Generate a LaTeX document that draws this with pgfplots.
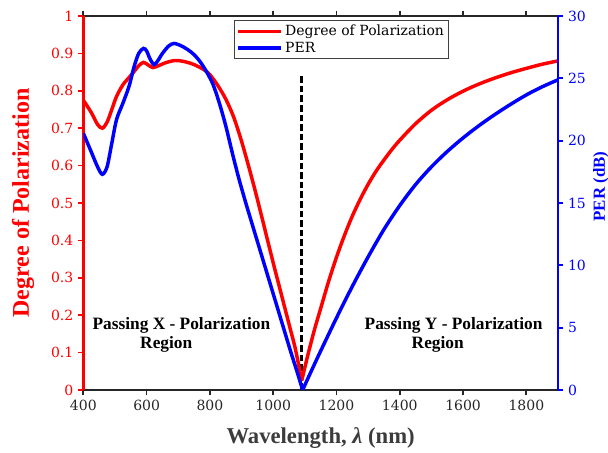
\documentclass[border=0pt]{standalone}
\usepackage{fontspec}
\setmainfont{DejaVu Serif}
\newfontfamily\tnr{Liberation Serif}
\usepackage{pgfplots}
\pgfplotsset{compat=1.18}
\definecolor{axgray}{RGB}{38,38,38}
\definecolor{mred}{RGB}{255,0,0}
\definecolor{mblue}{RGB}{0,0,255}

\pgfplotstableread{
x y
400 0.775
425 0.742
445 0.710
460 0.700
475 0.716
490 0.750
505 0.785
525 0.816
545 0.836
560 0.851
575 0.867
590 0.876
605 0.869
620 0.862
640 0.868
660 0.875
690 0.881
720 0.878
750 0.870
780 0.857
800 0.843
825 0.814
850 0.778
875 0.730
900 0.665
925 0.590
950 0.510
975 0.425
1000 0.340
1025 0.258
1050 0.176
1070 0.110
1090 0.025
}\redleft

\pgfplotstableread{
x y
1090 0.025
1110 0.095
1130 0.160
1150 0.218
1175 0.290
1200 0.355
1225 0.413
1250 0.465
1275 0.510
1300 0.550
1325 0.585
1350 0.615
1375 0.643
1400 0.668
1450 0.712
1500 0.748
1550 0.776
1600 0.799
1650 0.818
1700 0.834
1750 0.848
1800 0.860
1850 0.871
1900 0.880
}\redright

\pgfplotstableread{
x y
400 20.6
425 19.1
445 17.9
460 17.3
475 17.9
490 19.8
505 21.7
525 23.0
545 24.4
560 25.9
575 27.0
590 27.4
600 27.2
610 26.6
623 26.1
635 26.4
650 27.0
670 27.6
687 27.8
710 27.6
730 27.3
750 26.9
770 26.3
790 25.5
810 24.5
830 23.0
850 21.2
870 19.1
890 17.1
910 15.3
930 13.6
955 11.5
980 9.4
1005 7.3
1030 5.2
1055 3.1
1075 1.5
1093 0.0
}\blueleft

\pgfplotstableread{
x y
1093 0.0
1120 1.50
1150 3.13
1200 5.78
1250 8.31
1300 10.68
1350 12.88
1400 14.80
1450 16.48
1500 17.90
1550 19.13
1600 20.22
1650 21.20
1700 22.09
1750 22.91
1800 23.67
1850 24.32
1900 24.88
}\blueright

\begin{document}
\begin{tikzpicture}
\path[use as bounding box] (-62.5pt,-47.25pt) rectangle (393.5pt,292.5pt);
\begin{axis}[
  at={(0pt,0pt)}, anchor=south west,
  scale only axis, width=356pt, height=280.5pt,
  xmin=400, xmax=1900, ymin=0, ymax=1,
  axis y line*=left,
  xtick={400,600,800,1000,1200,1400,1600,1800},
  ytick={0,0.1,0.2,0.3,0.4,0.5,0.6,0.7,0.8,0.9,1},
  tick align=outside,
  major tick length=4pt,
  /pgf/number format/assume math mode=true,
  /pgf/number format/set thousands separator={},
  x axis line style={axgray, line width=1.5pt},
  y axis line style={mred, line width=2pt},
  x tick style={axgray, line width=1.3pt},
  y tick style={mred, line width=1.3pt},
  x tick label style={axgray, font=\fontsize{10.5}{12}\selectfont},
  y tick label style={mred, font=\fontsize{10.5}{12}\selectfont},
  every axis y label/.style={at={(axis description cs:-0.127,0.5)}, rotate=90, anchor=center},
  every axis x label/.style={at={(axis description cs:0.5,-0.128)}, anchor=center},
  xlabel={\tnr\bfseries\fontsize{17}{20}\selectfont\color{axgray!90!white}Wavelength, {\itshape λ} (nm)},
  ylabel={\tnr\bfseries\fontsize{18}{21}\selectfont\color{mred}Degree of Polarization},
]
\addplot[black, line width=2.2pt, dash pattern=on 5pt off 2.2pt] coordinates {(1090,0) (1090,0.84)};
\addplot[mred, line width=2.6pt, smooth] table {\redleft};
\addplot[mred, line width=2.6pt, smooth] table {\redright};
\node[font=\tnr\bfseries\fontsize{13}{15}\selectfont] at (axis cs:710,0.174) {Passing X - Polarization};
\node[font=\tnr\bfseries\fontsize{13}{15}\selectfont] at (axis cs:662,0.122) {Region};
\node[font=\tnr\bfseries\fontsize{13}{15}\selectfont] at (axis cs:1570,0.174) {Passing Y - Polarization};
\node[font=\tnr\bfseries\fontsize{13}{15}\selectfont] at (axis cs:1520,0.122) {Region};
\end{axis}
\begin{axis}[
  at={(0pt,0pt)}, anchor=south west,
  scale only axis, width=356pt, height=280.5pt,
  xmin=400, xmax=1900, ymin=0, ymax=30,
  axis y line*=right, axis x line=none,
  ytick={0,5,10,15,20,25,30},
  tick align=outside,
  major tick length=4pt,
  /pgf/number format/assume math mode=true,
  y axis line style={mblue, line width=2pt},
  y tick style={mblue, line width=1.3pt},
  y tick label style={mblue, font=\fontsize{10.5}{12}\selectfont},
  every axis y label/.style={at={(axis description cs:1.09,0.544)}, rotate=90, anchor=center},
  ylabel={\tnr\bfseries\fontsize{12.7}{15}\selectfont\color{mblue}PER (dB)},
  legend style={at={(0.317,0.989)}, anchor=north west, draw=black!75, line width=0.8pt,
    font=\fontsize{10.5}{12}\selectfont, inner sep=1.5pt, row sep=-1pt, cells={anchor=west}},
  legend image code/.code={\draw[#1] (0pt,0pt) -- (32pt,0pt);},
]
\addlegendimage{mred, line width=2.6pt}
\addlegendentry{Degree of Polarization}
\addplot[mblue, line width=2.6pt, smooth] table {\blueleft};
\addlegendentry{PER}
\addplot[mblue, line width=2.6pt, smooth, forget plot] table {\blueright};
\end{axis}
\end{tikzpicture}
\end{document}
